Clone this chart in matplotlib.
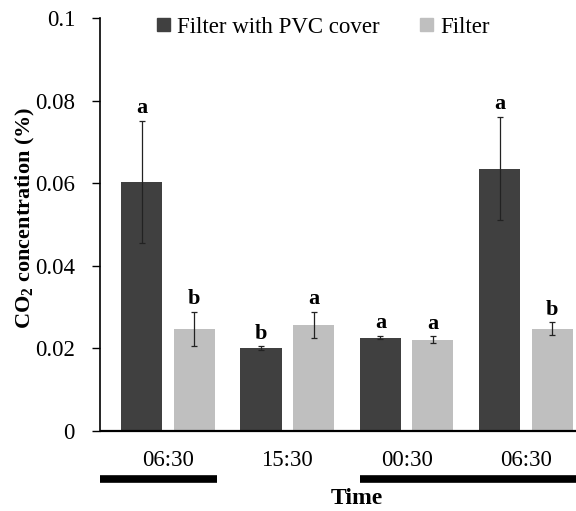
import numpy as np
import matplotlib.pyplot as plt
from matplotlib.patches import Patch
from matplotlib.transforms import blended_transform_factory

plt.rcParams['font.family'] = ['Liberation Serif', 'DejaVu Serif']
plt.rcParams['mathtext.fontset'] = 'custom'
plt.rcParams['mathtext.rm'] = 'Liberation Serif'
plt.rcParams['mathtext.bf'] = 'Liberation Serif:bold'

times = ["06:30", "15:30", "00:30", "06:30"]
series = ["Filter with PVC cover", "Filter"]
pvc_mean = [0.0602, 0.0200, 0.0226, 0.0635]
pvc_err = [0.0148, 0.0005, 0.0004, 0.0125]
pvc_sig = ["a", "b", "a", "a"]
flt_mean = [0.0248, 0.0257, 0.0221, 0.0248]
flt_err = [0.0041, 0.0032, 0.0008, 0.0015]
flt_sig = ["b", "a", "a", "b"]
night_spans = [(-0.57, 0.41), (1.61, 3.45)]   # dark periods, in category units

colors = ["#404040", "#bfbfbf"]
W = 0.346
off = 0.22

fig = plt.figure(figsize=(5.76, 5.11), dpi=100)
ax = fig.add_axes([100/576, 80/511, 476/576, 413/511])

x = np.arange(len(times))
for i, (m, e, s) in enumerate([(pvc_mean, pvc_err, pvc_sig), (flt_mean, flt_err, flt_sig)]):
    xs = x + (2*i - 1)*off
    ax.bar(xs, m, W, color=colors[i], zorder=2)
    ax.errorbar(xs, m, yerr=e, fmt='none', ecolor='#222222', elinewidth=0.9,
                capsize=2.5, capthick=0.9, zorder=3)
    for xi, mi, ei, si in zip(xs, m, e, s):
        ax.annotate(si, (xi, mi + ei), xytext=(0, 2), textcoords='offset points',
                    ha='center', va='bottom', fontsize=16, fontweight='bold')

ax.set_xlim(-0.57, 3.42)
ax.set_ylim(0, 0.1)
ax.set_yticks([0, 0.02, 0.04, 0.06, 0.08, 0.1])
ax.set_yticklabels(["0", "0.02", "0.04", "0.06", "0.08", "0.1"])
ax.set_xticks(x)
ax.set_xticklabels(times)
ax.tick_params(axis='y', length=6, width=1, pad=12, labelsize=16.5)
ax.tick_params(axis='x', length=0, pad=14, labelsize=16.5)
for side in ['top', 'right']:
    ax.spines[side].set_visible(False)
ax.spines['left'].set_linewidth(1.2)
ax.spines['bottom'].set_linewidth(1.6)
ax.spines['bottom'].set_capstyle('butt')

ax.set_ylabel(r"CO$_{\mathbf{2}}$ concentration (%)", fontsize=16, fontweight='bold')
ax.yaxis.set_label_coords(-0.132, 0.515)

# night bars beneath the time labels
tr = blended_transform_factory(ax.transData, fig.transFigure)
for a, b in night_spans:
    ax.plot([a, b], [1 - 479/511, 1 - 479/511], color='black', lw=5.5,
            solid_capstyle='butt', transform=tr, clip_on=False)

fig.text(357/576, 1 - 498/511, "Time", ha='center', va='center',
         fontsize=17, fontweight='bold')

handles = [Patch(color=c) for c in colors]
ax.legend(handles, series, loc='center left', bbox_to_anchor=(0.12, 0.978),
          ncol=2, frameon=False, fontsize=16.5, handlelength=0.55, handleheight=0.55,
          handletextpad=0.3, columnspacing=1.8, borderpad=0, borderaxespad=0)

fig.savefig("out.png", dpi=100)
